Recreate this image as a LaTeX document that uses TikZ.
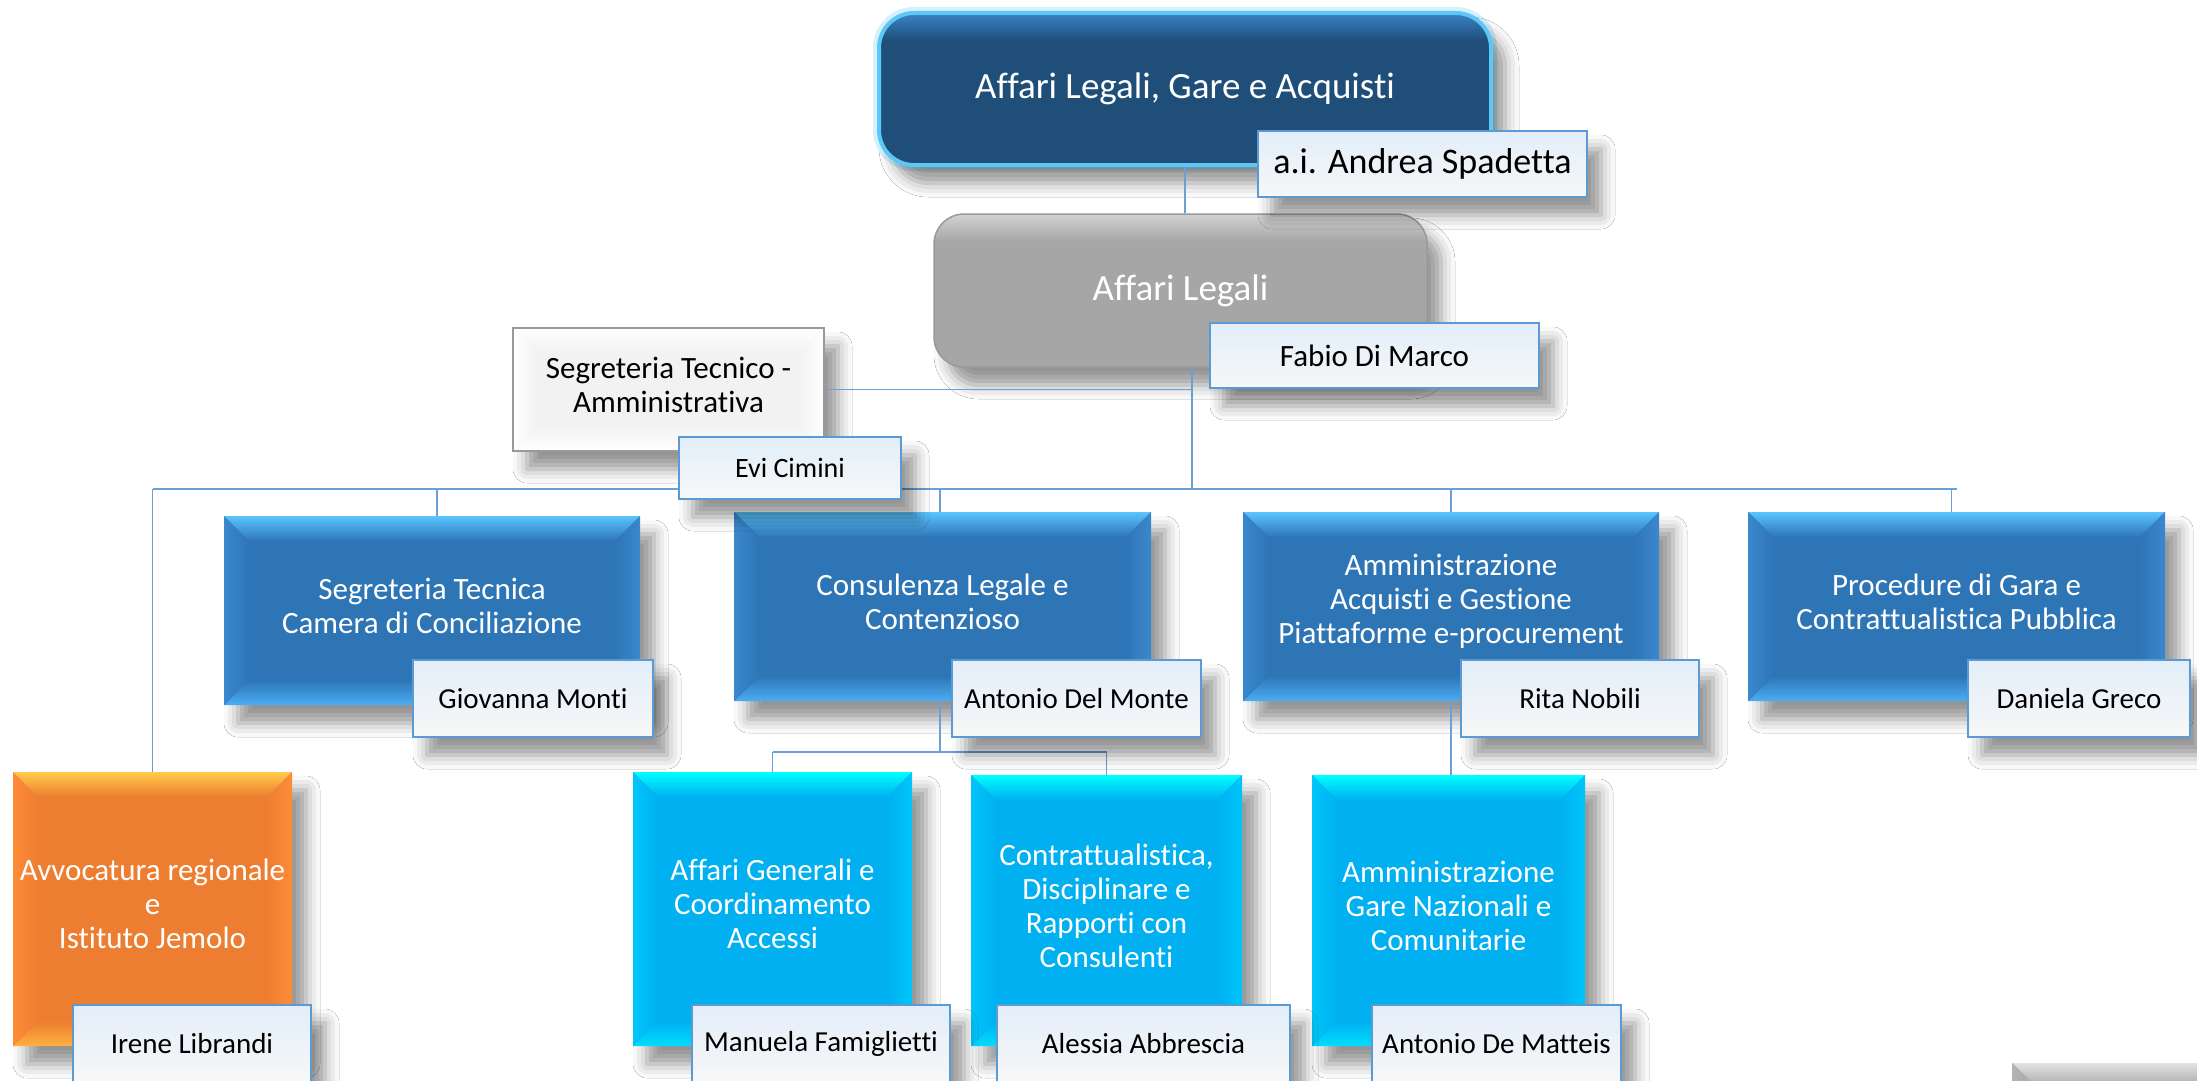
\documentclass[tikz,border=0pt]{standalone}
\usepackage{fontspec}
\setmainfont{Carlito}[Ligatures=NoCommon]
\usetikzlibrary{shadows.blur}
% palettes: m main, t top bevel, b bottom bevel, s side bevel, x text
\definecolor{bluem}{HTML}{2E75B6}\definecolor{bluet}{HTML}{5AC4FF}\definecolor{blueb}{HTML}{4AAEF2}\definecolor{blues}{HTML}{3B88CE}\definecolor{bluex}{HTML}{FFFFFF}
\definecolor{cyanm}{HTML}{00B0F0}\definecolor{cyant}{HTML}{00FFFF}\definecolor{cyanb}{HTML}{00DDFF}\definecolor{cyans}{HTML}{00C6FA}\definecolor{cyanx}{HTML}{FFFFFF}
\definecolor{orgm}{HTML}{ED7D31}\definecolor{orgt}{HTML}{FFCC4A}\definecolor{orgb}{HTML}{FFB040}\definecolor{orgs}{HTML}{FF8C38}\definecolor{orgx}{HTML}{FFFFFF}
\definecolor{whtm}{HTML}{F2F2F2}\definecolor{whtt}{HTML}{FFFFFF}\definecolor{whtb}{HTML}{FFFFFF}\definecolor{whts}{HTML}{FFFFFF}\definecolor{whtx}{HTML}{000000}
\definecolor{grym}{HTML}{A6A6A6}\definecolor{gryt}{HTML}{E2E2E2}\definecolor{gryb}{HTML}{C8C8C8}\definecolor{grys}{HTML}{B4B4B4}\definecolor{gryx}{HTML}{FFFFFF}
\definecolor{topd}{HTML}{1F4E79}\definecolor{topl}{HTML}{3A84C6}\definecolor{glowc}{HTML}{5CC8F8}
\definecolor{alm}{HTML}{A6A6A6}\definecolor{all}{HTML}{D2D2D2}\definecolor{albord}{HTML}{9C9898}
\definecolor{labb}{HTML}{5B9BD5}\definecolor{labt}{HTML}{E2EEF9}\definecolor{labbot}{HTML}{F7F7F7}
\definecolor{connc}{HTML}{6A9FD8}
\pgfdeclareverticalshading{topsh}{100bp}{color(0bp)=(topd); color(25bp)=(topd); color(66bp)=(topd); color(75bp)=(topl); color(100bp)=(topl)}
\pgfdeclareverticalshading{alsh}{100bp}{color(0bp)=(alm); color(25bp)=(alm); color(66bp)=(alm); color(75bp)=(all); color(100bp)=(all)}
\tikzset{
  conn/.style={draw=connc, line width=1.8pt},
  shd/.style={blur shadow={shadow xshift=14pt, shadow yshift=-18pt, shadow blur radius=14pt, shadow opacity=42}},
  bbox/.style={shape=rectangle, inner sep=0pt, shd},
  btext/.style={font=\fontsize{31}{34}\selectfont, align=center, inner sep=0pt},
  namebox/.style={shape=rectangle, inner sep=0pt, draw=labb, line width=2.5pt, top color=labt, bottom color=labbot, shd, text=black},
}
\def\bev{25}
% #1 name #2 x1 #3 y1 #4 x2 #5 y2 #6 palette #7 text
\newcommand\bevbox[7]{%
  \node[bbox, fill=#6m, minimum width={#4-#2}, minimum height={#5-#3}] (#1) at ({(#2+#4)/2},{(#3+#5)/2}) {};
  \shade[top color=#6t, bottom color=#6m] (#2,#3) -- (#4,#3) -- ({#4-\bev},{#3+\bev}) -- ({#2+\bev},{#3+\bev}) -- cycle;
  \shade[top color=#6m, bottom color=#6b] (#2,#5) -- (#4,#5) -- ({#4-\bev},{#5-\bev}) -- ({#2+\bev},{#5-\bev}) -- cycle;
  \shade[left color=#6s, right color=#6m] (#2,#3) -- ({#2+\bev},{#3+\bev}) -- ({#2+\bev},{#5-\bev}) -- (#2,#5) -- cycle;
  \shade[left color=#6m, right color=#6s] (#4,#3) -- ({#4-\bev},{#3+\bev}) -- ({#4-\bev},{#5-\bev}) -- (#4,#5) -- cycle;
  \node[btext, text=#6x] (#1-t) at ([yshift=5pt]#1.center) {#7};
}
% #1 name #2 x1 #3 y1 #4 x2 #5 y2 #6 font size #7 text
\newcommand\namelab[7]{%
  \node[namebox, minimum width={#4-#2}, minimum height={#5-#3}, font=\fontsize{#6}{#6}\selectfont] (#1) at ({(#2+#4)/2},{(#3+#5)/2}) {#7};
}
\begin{document}
\begin{tikzpicture}[x=1pt, y=-1pt]
\useasboundingbox (0,0) rectangle (2197,1081);
\clip (0,0) rectangle (2197,1081);
\fill[white] (0,0) rectangle (2197,1081);

% ---- top box
\path[draw=glowc, line width=12pt, opacity=0.25, rounded corners=35pt] (879,13) rectangle (1491,165);
\node[shape=rectangle, rounded corners=35pt, shading=topsh, shd, draw=glowc, line width=4pt,
      minimum width=612, minimum height=152, inner sep=0pt, text=white,
      font=\fontsize{37}{42}\selectfont] (top) at (1185,89) {Affari Legali, Gare e Acquisti};

% ---- Affari Legali
\node[shape=rectangle, rounded corners=30pt, shading=alsh, shd, draw=albord, line width=1.5pt,
      minimum width=493, minimum height=153, inner sep=0pt, text=white,
      font=\fontsize{37}{42}\selectfont] (al) at (1180.5,290.5) {Affari Legali};

% ---- boxes
\bevbox{sta}{513}{328}{824}{451}{wht}{Segreteria Tecnico -\\Amministrativa}
\draw[draw=albord, line width=2pt] (sta.north west) rectangle (sta.south east);
\bevbox{stc}{224}{516}{640}{705}{blue}{Segreteria Tecnica\\Camera di Conciliazione}
\bevbox{clc}{734}{512}{1151}{701}{blue}{Consulenza Legale e\\Contenzioso}
\bevbox{aag}{1243}{512}{1659}{701}{blue}{Amministrazione\\Acquisti e Gestione\\Piattaforme e-procurement}
\bevbox{pgc}{1748}{512}{2165}{701}{blue}{Procedure di Gara e\\Contrattualistica Pubblica}
\bevbox{avv}{13}{772}{292}{1046}{org}{Avvocatura regionale\\e\\Istituto Jemolo}
\bevbox{agc}{633}{772}{912}{1046}{cyan}{Affari Generali e\\Coordinamento\\Accessi}
\bevbox{cdr}{971}{775}{1242}{1046}{cyan}{Contrattualistica,\\Disciplinare e\\Rapporti con\\Consulenti}
\bevbox{agn}{1312}{775}{1585}{1046}{cyan}{Amministrazione\\Gare Nazionali e\\Comunitarie}
\bevbox{brg}{2012}{1063}{2260}{1160}{gry}{}

% ---- connectors
\coordinate (alout) at ([xshift=11.5pt]al.south);
\coordinate (bus) at (1192,489);
\coordinate (sub) at (940,752);
\draw[conn] (top.south) -- (top.south |- al.north);
\draw[conn] (alout) -- (alout |- bus);
\draw[conn] (sta.east) -- (sta.east -| alout);
\draw[conn] (avv.north |- bus) -- (pgc.north |- bus);
\draw[conn] (avv.north |- bus) -- (avv.north);
\draw[conn] ([xshift=5pt]stc.north |- bus) -- ([xshift=5pt]stc.north);
\draw[conn] ([xshift=-2.5pt]clc.north |- bus) -- ([xshift=-2.5pt]clc.north);
\draw[conn] (aag.north |- bus) -- (aag.north);
\draw[conn] ([xshift=-5pt]pgc.north |- bus) -- ([xshift=-5pt]pgc.north);
\draw[conn] ([xshift=-2.5pt]clc.south) -- ([xshift=-2.5pt]clc.south |- sub);
\draw[conn] (agc.north |- sub) -- (cdr.north |- sub);
\draw[conn] (agc.north |- sub) -- (agc.north);
\draw[conn] (cdr.north |- sub) -- (cdr.north);
\draw[conn] (aag.south) -- (aag.south |- agn.north);

% ---- name labels
\namelab{nAS}{1258}{131}{1587}{197}{36}{a.i. Andrea Spadetta}
\namelab{nFD}{1210}{323}{1539}{388}{31}{Fabio Di Marco}
\namelab{nEC}{679}{437}{901}{499}{28}{Evi Cimini}
\namelab{nGM}{413}{660}{653}{737}{29}{Giovanna Monti}
\namelab{nAD}{952}{660}{1201}{737}{29}{Antonio Del Monte}
\namelab{nRN}{1461}{660}{1699}{737}{29}{Rita Nobili}
\namelab{nDG}{1968}{660}{2190}{737}{29}{Daniela Greco}
\namelab{nIL}{73}{1005}{311}{1082}{29}{Irene Librandi}
\namelab{nMF}{692}{1005}{950}{1082}{29}{Manuela Famiglietti}
\namelab{nAA}{997}{1005}{1290}{1082}{29}{Alessia Abbrescia}
\namelab{nAM}{1372}{1005}{1621}{1082}{29}{Antonio De Matteis}
\end{tikzpicture}
\end{document}
